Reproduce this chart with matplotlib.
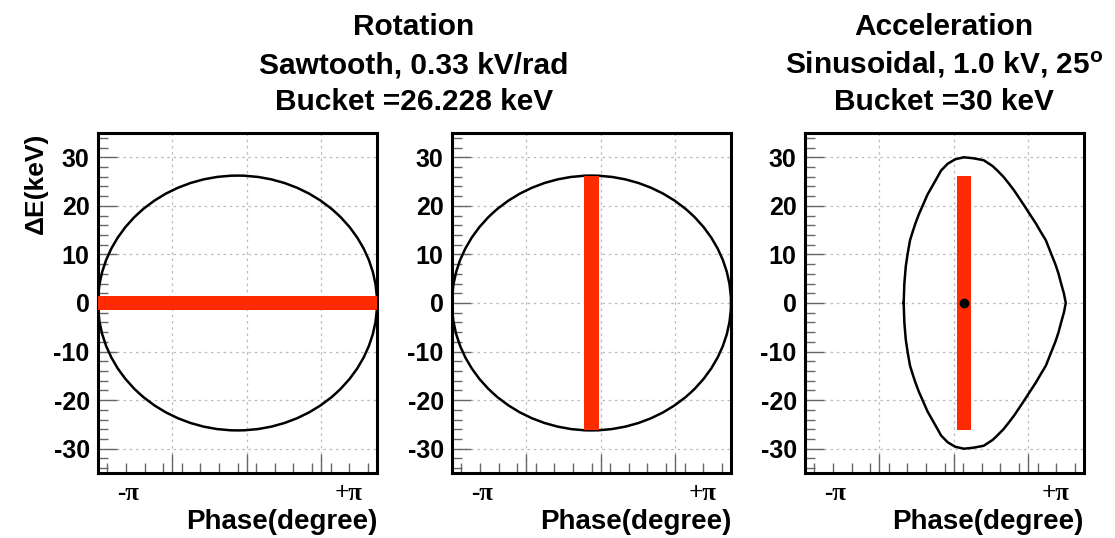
import numpy as np
import matplotlib
matplotlib.use("Agg")
import matplotlib.pyplot as plt
from matplotlib.patches import Ellipse
from matplotlib.ticker import MultipleLocator, FixedLocator
from matplotlib.transforms import blended_transform_factory

plt.rcParams['font.family'] = ['Liberation Sans', 'DejaVu Sans']
plt.rcParams['font.weight'] = 'bold'
plt.rcParams['axes.labelweight'] = 'bold'
plt.rcParams['axes.unicode_minus'] = False
plt.rcParams['mathtext.fontset'] = 'custom'
plt.rcParams['mathtext.rm'] = 'Liberation Sans:bold'
plt.rcParams['mathtext.it'] = 'Liberation Sans:bold'

# --- data (phase in degrees, dE in keV) ---
bucket_rot = 26.228          # sawtooth bucket half height
phase_span = [-180, 180]

# bunch (red) in each panel
bar1_phase = [-180, 180]     # panel 1: flat bunch
bar1_de = 0.0
bar1_thick = 2.7
bar2_phase = 0.0             # panel 2: rotated bunch
bar2_width = 19
bar_de = [-26.2, 26.2]
bar3_phase = 25.0            # panel 3: bunch at synchronous phase
bar3_width = 18
sync_phase = 25.0

# separatrix of the accelerating bucket, upper half
sep_phase = [-52.7, -51.8, -50.0, -47.5, -44.5, -41.0, -37.5, -33.0, -28.0, -22.0,
             -13.8, -4.3, 4.3, 14.0, 25.0, 37.0, 50.5, 62.0, 68.0, 76.0,
             83.0, 89.7, 96.0, 102.7, 110.0, 117.8, 124.0, 130.8, 137.5, 143.0,
             147.0, 150.5, 154.0, 156.5]
sep_de = [0.0, 4.0, 7.5, 10.2, 12.9, 14.7, 16.4, 18.3, 20.1, 22.3,
          24.6, 27.3, 28.7, 29.6, 30.0, 29.8, 29.4, 28.2, 27.3, 26.0,
          24.6, 23.2, 21.7, 20.1, 18.3, 16.4, 14.7, 12.9, 10.2, 8.0,
          6.1, 4.0, 2.0, 0.0]

y_ticks = [-30, -20, -10, 0, 10, 20, 30]
x_major = [-180, -84, 12, 108]
pi_labels = ['-π', '+π']
pi_pos = [-141, 143]

title_rot = ['Rotation', 'Sawtooth, 0.33 kV/rad', 'Bucket =26.228 keV']
title_acc = ['Acceleration', r'Sinusoidal, 1.0 kV, 25$^{\rm o}$', 'Bucket =30 keV']
title_base = [35, 74, 110]

RED = '#fe2a00'

fig = plt.figure(figsize=(11.15, 5.38), dpi=100)
W, H = 1115, 538
lefts = [98, 452, 805]
axes = []
for l in lefts:
    ax = fig.add_axes([l / W, 1 - 473 / H, 279 / W, 340 / H])
    axes.append(ax)

for ax in axes:
    ax.set_xlim(*phase_span)
    ax.set_ylim(-35, 35)
    ax.xaxis.set_major_locator(FixedLocator(x_major))
    ax.xaxis.set_minor_locator(MultipleLocator(24))
    ax.set_yticks(y_ticks)
    ax.yaxis.set_minor_locator(MultipleLocator(2))
    ax.set_xticklabels([])
    ax.tick_params(which='both', direction='in', top=False, right=False,
                   color='#666666', width=1)
    ax.tick_params(which='major', length=14, labelsize=18, pad=6)
    ax.tick_params(which='minor', length=7)
    ax.grid(True, which='major', color='#bbbbbb', linestyle=(0, (2, 3)), linewidth=0.9)
    ax.set_axisbelow(True)
    for s in ax.spines.values():
        s.set_linewidth(2.2)
    trans = blended_transform_factory(ax.transData, ax.transAxes)
    for lab, p in zip(pi_labels, pi_pos):
        ax.text(p, -0.06, lab, transform=trans, ha='center', va='center',
                fontsize=18, family=['Liberation Serif', 'DejaVu Serif'])
    ax.set_xlabel('Phase(degree)', loc='right', fontsize=20, labelpad=20)

# panel 1 and 2: sawtooth bucket (ellipse)
for ax in axes[:2]:
    ax.add_patch(Ellipse((0, 0), phase_span[1] - phase_span[0], 2 * bucket_rot,
                         fill=False, edgecolor='black', linewidth=1.8, zorder=3))

axes[0].barh(bar1_de, bar1_phase[1] - bar1_phase[0], left=bar1_phase[0],
             height=bar1_thick, color=RED, zorder=4)
axes[1].bar(bar2_phase, bar_de[1] - bar_de[0], bottom=bar_de[0],
            width=bar2_width, color=RED, zorder=4)

# panel 3: accelerating bucket
ph = np.array(sep_phase)
de = np.array(sep_de)
axes[2].plot(np.concatenate([ph, ph[::-1]]), np.concatenate([de, -de[::-1]]),
             color='black', linewidth=1.8, zorder=3, solid_joinstyle='round')
axes[2].bar(bar3_phase, bar_de[1] - bar_de[0], bottom=bar_de[0],
            width=bar3_width, color=RED, zorder=4)
axes[2].plot([sync_phase], [0], 'o', color='black', markersize=6, zorder=5)

axes[0].set_ylabel('ΔE(keV)', loc='top', fontsize=19, labelpad=4)

# titles
for line, b in zip(title_rot, title_base):
    fig.text(414 / W, 1 - b / H, line, ha='center', va='baseline', fontsize=21.5)
for line, b in zip(title_acc, title_base):
    fig.text(944 / W, 1 - b / H, line, ha='center', va='baseline', fontsize=21.5)

fig.savefig('out.png', dpi=100)
